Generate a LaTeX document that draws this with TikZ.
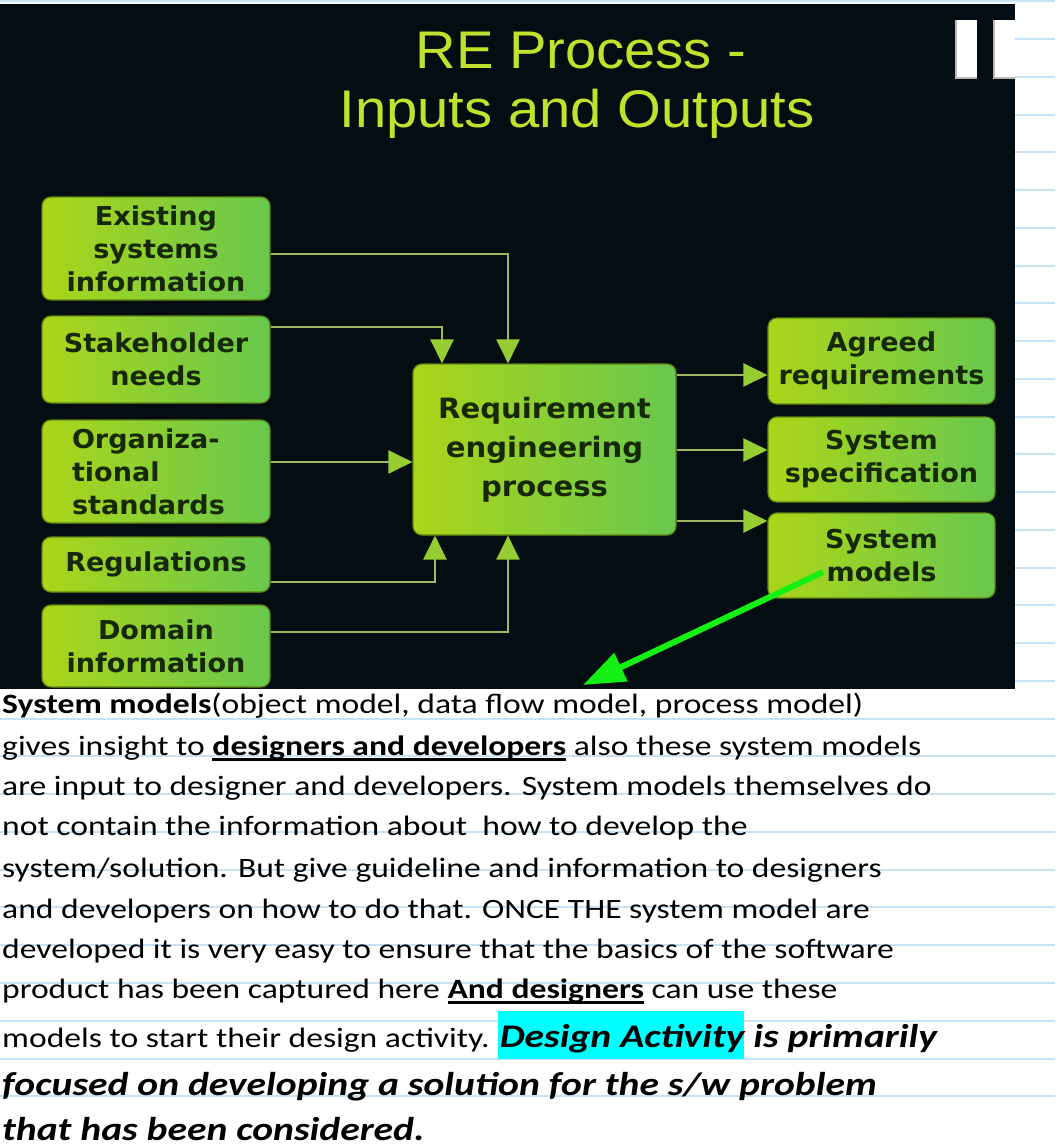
\documentclass[tikz,border=0pt]{standalone}
\usepackage{fontspec}
\setmainfont{Carlito}
\newfontfamily\paperfont[FakeStretch=1.2]{Carlito}
\newfontfamily\boxfont[FakeStretch=1.04]{DejaVu Sans}
\newfontfamily\titlefont[FakeStretch=1.06]{Liberation Sans}
\usetikzlibrary{arrows.meta}
\definecolor{slidebg}{RGB}{4,13,17}
\definecolor{titlecol}{RGB}{192,226,45}
\definecolor{boxL}{RGB}{172,213,25}
\definecolor{boxR}{RGB}{104,200,78}
\definecolor{boxedge}{RGB}{95,135,20}
\definecolor{boxtxt}{RGB}{22,40,8}
\definecolor{conn}{RGB}{160,182,95}
\definecolor{tipcol}{RGB}{150,205,50}
\definecolor{rulecol}{RGB}{200,226,245}
\definecolor{annot}{RGB}{20,240,20}
\definecolor{hlcyan}{RGB}{0,255,255}
\newcommand\ulbf[1]{\setbox0\hbox{\bfseries #1}\rlap{\rule[-6pt]{\wd0}{2.6pt}}\box0\relax}
\newcommand\hlbox[1]{\setbox0\hbox{#1}\rlap{\kern-2pt\textcolor{hlcyan}{\rule[-12pt]{\dimexpr\wd0+2pt\relax}{48pt}}}\box0\relax}
\begin{document}
\begin{tikzpicture}[x=1pt,y=-1pt,
  gbox/.style={rounded corners=9pt, left color=boxL, right color=boxR, draw=boxedge,
    line width=1.2pt, align=center, inner sep=0pt, text=boxtxt,
    font=\boxfont\bfseries\fontsize{26}{33}\selectfont},
  cbox/.style={gbox, font=\boxfont\bfseries\fontsize{28}{39}\selectfont},
  title/.style={anchor=base, inner sep=0pt, text=titlecol,
    font=\titlefont\fontsize{53}{60}\selectfont},
  link/.style={draw=conn, line width=2.6pt},
  flow/.style={link, -{Triangle[length=24pt,width=23pt,color=tipcol]}},
  paper/.style={anchor=base west, inner sep=0pt, text=black,
    font=\paperfont\fontsize{28}{34}\selectfont},
  paperbig/.style={paper, font=\paperfont\fontsize{33}{40}\selectfont\bfseries\itshape},
  hint/.style={draw=annot, line width=6pt, -{Triangle[length=42pt,width=30pt,color=annot]}}
]
\useasboundingbox (0,0) rectangle (1055,1148);
\fill[white] (0,0) rectangle (1055,1148);
\foreach \k in {0,...,29}
  \draw[rulecol, line width=2pt] (0,{1.24+37.76*\k}) -- (1055,{1.24+37.76*\k});

% slide
\fill[slidebg] (0,4) rectangle (1015,689);
\fill[gray!55] (955,20) rectangle (977,79);
\fill[white] (957,20) rectangle (977,77);
\fill[gray!55] (993,20) rectangle (1015,79);
\fill[white] (995,20) rectangle (1015,77);

\node[title] (t1) at (581,69) {RE Process -};
\node[title] (t2) at (577,127) {Inputs and Outputs};

\node[gbox, minimum width=228pt, minimum height=103pt] (ex) at (156,248.5) {Existing\\systems\\information};
\node[gbox, minimum width=228pt, minimum height=87pt] (sh) at (156,359.5) {Stakeholder\\needs};
\node[gbox, minimum width=228pt, minimum height=103pt, align=left, text width=168pt] (org) at (156,471.5) {Organiza-\\tional\\standards};
\node[gbox, minimum width=228pt, minimum height=55pt] (reg) at (156,564.5) {Regulations};
\node[gbox, minimum width=228pt, minimum height=82pt] (dom) at (156,646) {Domain\\information};

\node[cbox, minimum width=263pt, minimum height=171pt] (re) at (544.5,449.5) {Requirement\\engineering\\process};

\node[gbox, minimum width=227pt, minimum height=86pt] (agr) at (881.5,361) {Agreed\\requirements};
\node[gbox, minimum width=227pt, minimum height=85pt] (spec) at (881.5,459.5) {System\\specification};
\node[gbox, minimum width=227pt, minimum height=85pt] (mod) at (881.5,555.5) {System\\models};

\draw[flow] (ex.east |- 0,254) -| (re.north -| 508,0);
\draw[flow] (sh.east |- 0,327) -| (re.north -| 442,0);
\draw[flow] (org.east |- 0,462) -- (re.west |- 0,462);
\draw[flow] (reg.east |- 0,582) -| (re.south -| 435,0);
\draw[flow] (dom.east |- 0,632) -| (re.south -| 508,0);
\draw[flow] (re.east |- 0,375) -- (agr.west |- 0,375);
\draw[flow] (re.east |- 0,450) -- (spec.west |- 0,450);
\draw[flow] (re.east |- 0,521) -- (mod.west |- 0,521);

\coordinate (gtip) at (583,685);
\draw[hint] ([shift={(-58.5,16.5)}]mod.center) -- (gtip);

% notes
\node[paper] (l1) at (2,713) {\textbf{System models}(object model, data flow model, process model)};
\node[paper] (l2) at (2,755) {gives insight to \ulbf{designers and developers} also these system models};
\node[paper] (l3) at (2,795) {are input to designer and developers. System models themselves do};
\node[paper] (l4) at (2,835) {not contain the information about\ \ how to develop the};
\node[paper] (l5) at (2,877) {system/solution. But give guideline and information to designers};
\node[paper] (l6) at (2,918) {and developers on how to do that. ONCE THE system model are};
\node[paper] (l7) at (2,958) {developed it is very easy to ensure that the basics of the software};
\node[paper] (l8) at (2,998) {product has been captured here \ulbf{And designers} can use these};
\node[paper] (l9) at (2,1047) {models to start their design activity. {\fontsize{33}{40}\selectfont\bfseries\itshape\hlbox{Design Activity} is primarily}};
\node[paperbig] (l10) at (2,1095) {focused on developing a solution for the s/w problem};
\node[paperbig] (l11) at (2,1140) {that has been considered.};
\end{tikzpicture}
\end{document}
